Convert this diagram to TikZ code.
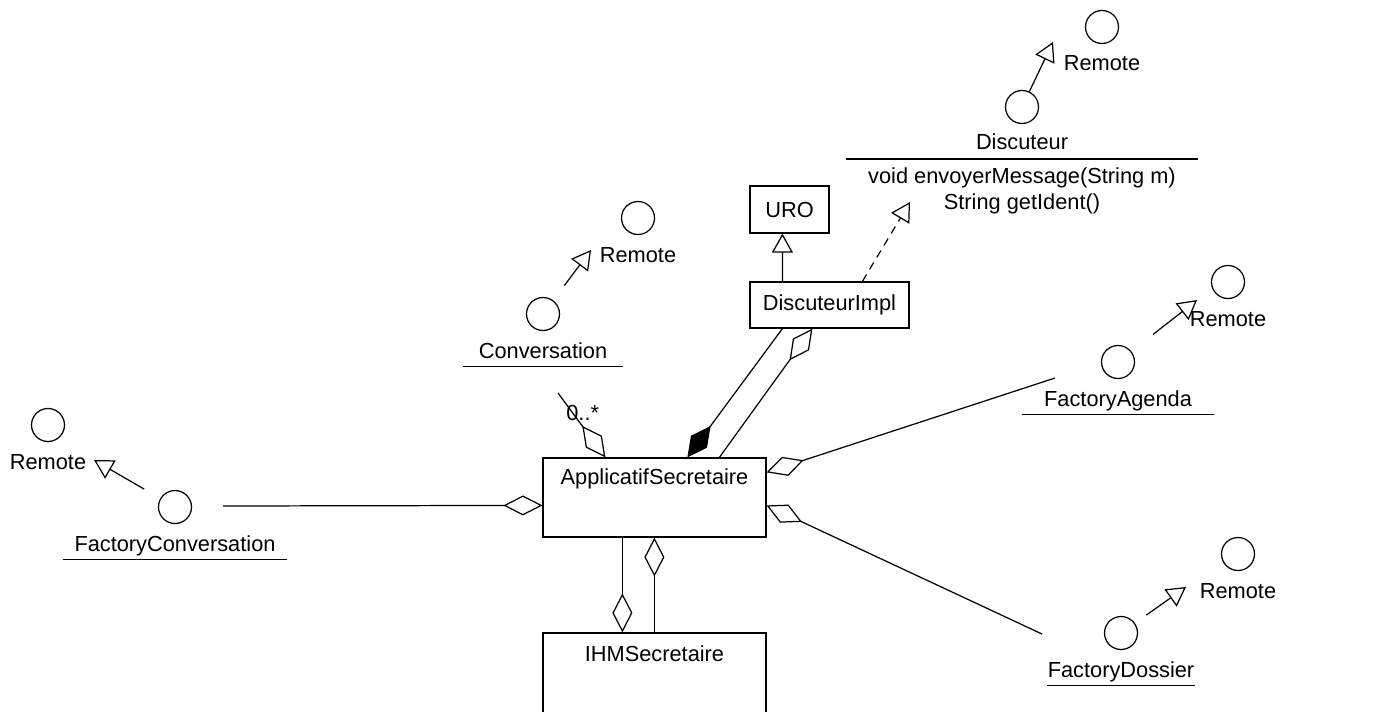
\documentclass[tikz,border=0pt]{standalone}
\usepackage{fontspec}
\setmainfont{Liberation Sans}
\usetikzlibrary{arrows.meta}

\tikzset{
	classbox/.style={draw, rectangle, line width=0.7pt, inner sep=0pt},
	iface/.style={draw, circle, line width=0.7pt, minimum size=0.66cm, inner sep=0pt},
	ifname/.style={inner sep=0pt, anchor=base},
	underl/.style={line width=0.7pt},
	aggr/.style={line width=0.7pt, -{Diamond[open, length=0.78cm, width=0.4cm]}},
	compo/.style={line width=0.7pt, -{Diamond[length=0.78cm, width=0.4cm]}},
	gener/.style={line width=0.7pt, -{Triangle[open, length=0.38cm, width=0.42cm]}},
	realiz/.style={gener, dash pattern=on 0.16cm off 0.12cm}
}

\begin{document}
\begin{tikzpicture}[x=0.02cm, y=-0.02cm, font=\fontsize{12.4}{14.8}\selectfont]
			\useasboundingbox (0,0) rectangle (1395,711);
			\clip (0,0) rectangle (1395,711);
			
			% classes
			\node[classbox, minimum width=4.46cm, minimum height=1.58cm] (app) at (654.5,497.5) {};
			\node[anchor=base, inner sep=0pt] (appT) at ([yshift=-0.54cm]app.north) {ApplicatifSecretaire};
			\node[classbox, minimum width=4.46cm, minimum height=2.8cm] (ihm) at (654.5,703) {};
			\node[anchor=base, inner sep=0pt] (ihmT) at ([yshift=-0.58cm]ihm.north) {IHMSecretaire};
			\node[classbox, minimum width=1.58cm, minimum height=0.94cm] (uro) at (789.5,209.5) {URO};
			\node[classbox, minimum width=3.18cm, minimum height=0.92cm] (impl) at (829.5,305) {DiscuteurImpl};
			
			% interfaces
			\node[iface] (disc) at (1022,107) {};
			\node[ifname, minimum width=7.04cm] (discN) at ([yshift=-0.86cm]disc.center) {Discuteur};
			\draw[underl] ([yshift=-0.18cm]discN.base west) -- ([yshift=-0.18cm]discN.base east);
			\node[inner sep=0pt, align=center, anchor=north] (discM) at (1022,167) {void envoyerMessage(String m)\\String getIdent()};
			\node[iface] (discR) at (1102,27) {};
			\node[ifname] (discRN) at ([yshift=-0.88cm]discR.center) {Remote};
			
			\node[iface] (conv) at (543,314) {};
			\node[ifname, minimum width=3.2cm] (convN) at ([yshift=-0.88cm]conv.center) {Conversation};
			\draw[underl] ([yshift=-0.17cm]convN.base west) -- ([yshift=-0.17cm]convN.base east);
			\node[iface] (convR) at (638,218) {};
			\node[ifname] (convRN) at ([yshift=-0.88cm]convR.center) {Remote};
			
			\node[iface] (fconv) at (175,507) {};
			\node[ifname, minimum width=4.46cm] (fconvN) at ([yshift=-0.88cm]fconv.center) {FactoryConversation};
			\draw[underl] ([yshift=-0.17cm]fconvN.base west) -- ([yshift=-0.17cm]fconvN.base east);
			\node[iface] (fconvR) at (48,425) {};
			\node[ifname] (fconvRN) at ([yshift=-0.88cm]fconvR.center) {Remote};
			
			\node[iface] (fag) at (1118,362) {};
			\node[ifname, minimum width=3.84cm] (fagN) at ([yshift=-0.88cm]fag.center) {FactoryAgenda};
			\draw[underl] ([yshift=-0.17cm]fagN.base west) -- ([yshift=-0.17cm]fagN.base east);
			\node[iface] (fagR) at (1228,282) {};
			\node[ifname] (fagRN) at ([yshift=-0.88cm]fagR.center) {Remote};
			
			\node[iface] (fdos) at (1121,633) {};
			\node[ifname, minimum width=2.64cm] (fdosN) at ([yshift=-0.88cm]fdos.center) {FactoryDossier};
			\draw[underl] ([yshift=-0.17cm]fdosN.base west) -- ([yshift=-0.17cm]fdosN.base east);
			\node[iface] (fdosR) at (1238,554) {};
			\node[ifname] (fdosRN) at ([yshift=-0.88cm]fdosR.center) {Remote};
			
			% free ends
			\coordinate (discRT) at (1053,42);
			\coordinate (convRT) at (591,250);
			\coordinate (fconvRT) at (94,460);
			\coordinate (fagRT) at (1197,300);
			\coordinate (fdosRT) at (1186,587);
			\coordinate (discTip) at (910,202);
			\coordinate (convEnd) at (558,393);
			\coordinate (fconvEnd) at (223,506);
			\coordinate (fagEnd) at (1055,378);
			\coordinate (fdosEnd) at (1042,634);
			
			% Remote
			\draw[gener] (disc) -- (discRT);
			\draw[gener, shorten <=0.37cm] (conv) -- (convRT);
			\draw[gener, shorten <=0.37cm] (fconv) -- (fconvRT);
			\draw[gener, shorten <=0.55cm] (fag) -- (fagRT);
			\draw[gener, shorten <=0.28cm] (fdos) -- (fdosRT);
			
			\draw[gener] ([xshift=0.66cm]impl.north west) -- ([xshift=0.66cm]uro.south west);
			\draw[realiz] ([xshift=2.26cm]impl.north west) -- (discTip);
			
			% associations
			\draw[aggr] (convEnd) -- ([xshift=1.26cm]app.north west) node[pos=0.31, xshift=0.2cm] (convMult) {0..*};
			\draw[compo] ([xshift=0.66cm]impl.south west) -- ([xshift=2.9cm]app.north west);
			\draw[aggr] ([xshift=3.54cm]app.north west) -- ([xshift=1.26cm]impl.south west);
			\draw[aggr] (fconvEnd) -- ([yshift=-0.96cm]app.north west);
			\draw[aggr] (fagEnd) -- ([yshift=-0.3cm]app.north east);
			\draw[aggr] (fdosEnd) -- ([yshift=-0.96cm]app.north east);
			\draw[aggr] ([xshift=1.6cm]app.south west) -- ([xshift=1.6cm]ihm.north west);
			\draw[aggr] ([xshift=2.24cm]ihm.north west) -- ([xshift=2.24cm]app.south west);
\end{tikzpicture}
\end{document}
